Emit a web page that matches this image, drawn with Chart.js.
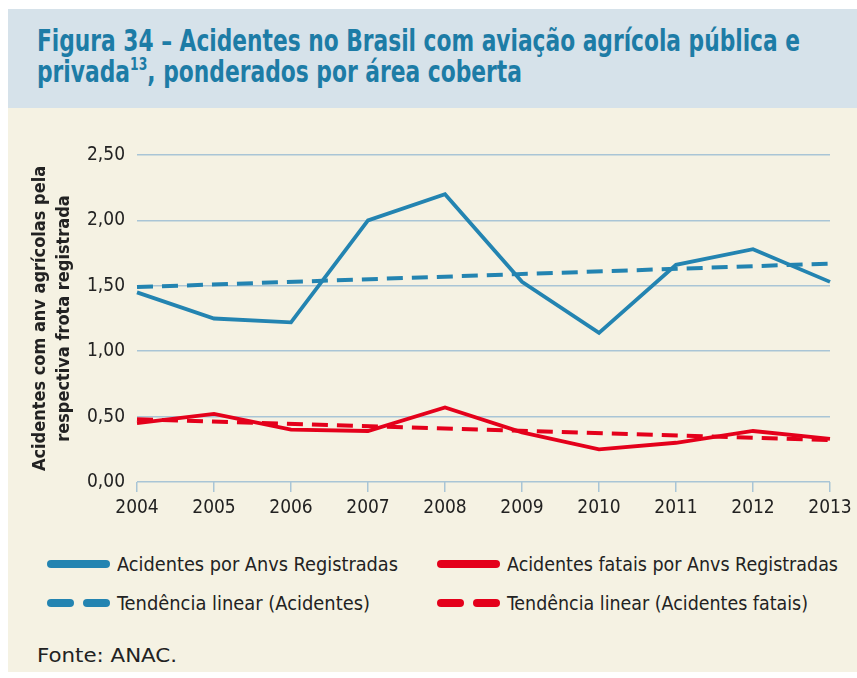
<!DOCTYPE html>
<html lang="pt-BR">
<head>
<meta charset="utf-8">
<title>Figura 34</title>
<script src="https://cdn.jsdelivr.net/npm/chart.js@4.4.1/dist/chart.umd.min.js"></script>
<style>
	body { margin: 0; width: 857px; height: 678px; background: #fff; position: relative; overflow: hidden;
		font-family: "DejaVu Sans Condensed", "DejaVu Sans", sans-serif; font-stretch: condensed; }
	.panel { position: absolute; left: 8px; top: 9px; right: 0; bottom: 6px; background: #f5f2e3; }
	.band { position: absolute; left: 8px; top: 9px; right: 0; height: 99px; background: #d6e2ea; }
	.title { position: absolute; left: 37px; top: 25px; color: #1d7ca6; font-weight: bold; font-size: 30px; line-height: 31px; }
	.title span { display: block; white-space: nowrap; transform-origin: 0 50%; width: max-content; }
	.title sup { font-size: 17px; line-height: 0; vertical-align: 12px; }
	.wrapper { position: absolute; left: 0; top: 110px; width: 857px; height: 430px; }
	.legend { position: absolute; font-size: 19px; color: #222; }
	.legend .item { position: absolute; white-space: nowrap; display: flex; align-items: center; }
	.legend .txt { display: inline-block; transform-origin: 0 50%; white-space: nowrap; }
	.sw { display: inline-block; width: 63px; height: 8px; margin-right: 7px; position: relative; }
	.sw i { position: absolute; top: 0; height: 8px; border-radius: 4px; }
	.fonte { position: absolute; left: 37px; top: 643px; font-size: 20px; color: #222; white-space: nowrap; transform-origin: 0 50%; }
</style>
</head>
<body>
	<div class="panel"></div>
	<div class="band"></div>
	<div class="title">
		<span id="t1">Figura 34 – Acidentes no Brasil com aviação agrícola pública e</span>
		<span id="t2">privada<sup>13</sup>, ponderados por área coberta</span>
	</div>
	<div class="wrapper"><canvas id="chart-0" width="857" height="430"></canvas></div>
	<div class="legend" id="legend"></div>
	<div class="fonte" id="fonte">Fonte: ANAC.</div>

	<script>
		var years = ['2004','2005','2006','2007','2008','2009','2010','2011','2012','2013'];
		var acidentes = [1.45, 1.25, 1.22, 2.00, 2.20, 1.53, 1.14, 1.66, 1.78, 1.53];
		var fatais = [0.45, 0.52, 0.40, 0.39, 0.57, 0.38, 0.25, 0.30, 0.39, 0.33];
		var tendAcidentes = [1.49, null, null, null, null, null, null, null, null, 1.67];
		var tendFatais = [0.48, null, null, null, null, null, null, null, null, 0.32];
		var yTicks = [0, 0.5, 1, 1.5, 2, 2.5];

		var blue = '#2384b1';
		var red = '#e4001b';
		var gridColor = '#a9c5d6';

		// squeeze a text element to the width it has in the figure
		function fit(el, w) {
			var cur = el.getBoundingClientRect().width;
			el.style.transform = 'scaleX(' + (w / cur) + ')';
		}

		var data = {
			labels: years,
			datasets: [{
				label: 'Acidentes por Anvs Registradas',
				data: acidentes,
				borderColor: blue,
				borderWidth: 3.8
			}, {
				label: 'Acidentes fatais por Anvs Registradas',
				data: fatais,
				borderColor: red,
				borderWidth: 3.8
			}, {
				label: 'Tendência linear (Acidentes)',
				data: tendAcidentes,
				borderColor: blue,
				borderWidth: 4,
				borderDash: [16, 9]
			}, {
				label: 'Tendência linear (Acidentes fatais)',
				data: tendFatais,
				borderColor: red,
				borderWidth: 4,
				borderDash: [16, 9]
			}]
		};

		var tickFont = { family: '"DejaVu Sans Condensed", "DejaVu Sans", sans-serif', size: 19 };

		var chart = new Chart('chart-0', {
			type: 'line',
			data: data,
			options: {
				responsive: false,
				animation: false,
				spanGaps: true,
				layout: { padding: { top: 45, right: 27, left: 0, bottom: 0 } },
				elements: {
					line: { tension: 0, borderCapStyle: 'butt', borderJoinStyle: 'miter' },
					point: { radius: 0 }
				},
				plugins: { legend: { display: false }, tooltip: { enabled: false } },
				scales: {
					x: {
						offset: false,
						border: { display: false },
						grid: { drawOnChartArea: false, drawTicks: true, tickLength: 10, color: gridColor, lineWidth: 1.5 },
						ticks: { color: '#222', font: tickFont, padding: 5, maxRotation: 0 },
						afterFit: function (s) { s.height = 58; }
					},
					y: {
						min: 0,
						max: 2.5,
						border: { display: false },
						grid: { color: gridColor, lineWidth: 1.5, drawTicks: false },
						afterBuildTicks: function (s) { s.ticks = yTicks.map(function (v) { return { value: v }; }); },
						ticks: {
							color: '#222', font: tickFont, padding: 12,
							callback: function (v) { return v.toFixed(2).replace('.', ','); }
						},
						title: {
							display: true,
							text: ['Acidentes com anv agrícolas pela', 'respectiva frota registrada'],
							color: '#222',
							font: { family: '"DejaVu Sans Condensed", "DejaVu Sans", sans-serif', size: 18, weight: 'bold', lineHeight: 1.33 },
							padding: { top: 28, bottom: 0 }
						},
						afterFit: function (s) { s.width = 137; }
					}
				}
			}
		});

		// html legend, two columns
		var legendPos = [[47, 553], [437, 553], [47, 592], [437, 592]];
		var legendWidths = [281, 331, 253, 301];
		var legend = document.getElementById('legend');
		data.datasets.forEach(function (ds, i) {
			var item = document.createElement('div');
			item.className = 'item';
			item.style.left = legendPos[i][0] + 'px';
			item.style.top = legendPos[i][1] + 'px';
			var sw = document.createElement('span');
			sw.className = 'sw';
			var parts = ds.borderDash ? [[0, 27], [36, 27]] : [[0, 63]];
			parts.forEach(function (p) {
				var seg = document.createElement('i');
				seg.style.left = p[0] + 'px';
				seg.style.width = p[1] + 'px';
				seg.style.background = ds.borderColor;
				sw.appendChild(seg);
			});
			var txt = document.createElement('span');
			txt.className = 'txt';
			txt.textContent = ds.label;
			item.appendChild(sw);
			item.appendChild(txt);
			legend.appendChild(item);
			fit(txt, legendWidths[i]);
		});

		fit(document.getElementById('t1'), 763);
		fit(document.getElementById('t2'), 485);
		fit(document.getElementById('fonte'), 140);
	</script>
</body>
</html>
